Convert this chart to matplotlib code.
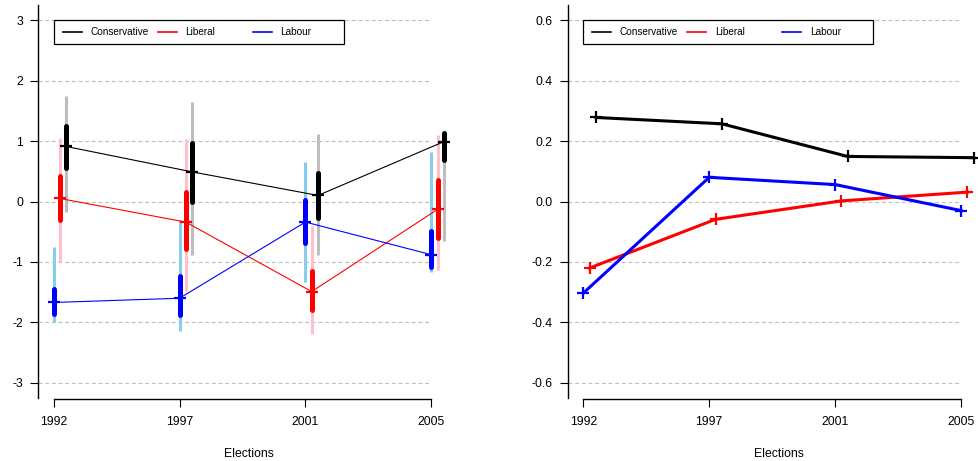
import matplotlib
matplotlib.use("Agg")
import matplotlib.pyplot as plt
import matplotlib.transforms as mtransforms
from matplotlib.lines import Line2D
from matplotlib.patches import Rectangle

plt.rcParams["font.family"] = ["Liberation Sans", "DejaVu Sans"]

elections = ["1992", "1997", "2001", "2005"]
parties = ["Conservative", "Liberal", "Labour"]

# left panel: estimates with inner (thick) and outer (thin) intervals
cons_est = [0.91, 0.49, 0.10, 0.99]
cons_inner = [(0.55, 1.25), (0.00, 0.96), (-0.27, 0.47), (0.68, 1.14)]
cons_outer = [(-0.18, 1.75), (-0.89, 1.64), (-0.89, 1.12), (-0.65, 1.16)]

lib_est = [0.05, -0.34, -1.49, -0.13]
lib_inner = [(-0.31, 0.42), (-0.79, 0.15), (-1.80, -1.15), (-0.61, 0.36)]
lib_outer = [(-1.00, 1.05), (-1.48, 1.03), (-2.19, -0.41), (-1.13, 1.10)]

lab_est = [-1.67, -1.60, -0.34, -0.88]
lab_inner = [(-1.86, -1.44), (-1.87, -1.23), (-0.68, 0.02), (-1.09, -0.48)]
lab_outer = [(-1.99, -0.75), (-2.14, -0.32), (-1.33, 0.66), (-1.16, 0.82)]

# right panel
cons_right = [0.278, 0.257, 0.149, 0.145]
lib_right = [-0.220, -0.059, 0.002, 0.031]
lab_right = [-0.303, 0.080, 0.056, -0.030]

DARK = {"Conservative": "black", "Liberal": "#FF0000", "Labour": "#0000FF"}
LIGHT = {"Conservative": "#BEBEBE", "Liberal": "#FFC0CB", "Labour": "#87CEEB"}
SHIFT = {"Labour": 0.0, "Liberal": 0.05, "Conservative": 0.1}

FS = 8.8
xpos = list(range(1, len(elections) + 1))

fig = plt.figure(figsize=(9.79, 4.61), dpi=100)
ax1 = fig.add_axes([38 / 979, 63 / 461, 421.5 / 979, 393 / 461])
ax2 = fig.add_axes([567.7 / 979, 63 / 461, 421.5 / 979, 393 / 461])


def setup(ax, ylim, yticks, fmt):
    ax.set_xlim(0.876, 4.224)
    ax.set_ylim(*ylim)
    for s in ["top", "right"]:
        ax.spines[s].set_visible(False)
    ax.spines["left"].set_linewidth(1.0)
    ax.spines["bottom"].set_linewidth(1.0)
    ax.spines["bottom"].set_bounds(1, 4)
    ax.spines["bottom"].set_position(("outward", 1))
    ax.set_xticks(xpos)
    ax.set_xticklabels(elections, fontsize=FS)
    ax.set_yticks(yticks)
    ax.set_yticklabels([fmt.format(v) for v in yticks], fontsize=FS)
    ax.tick_params(length=5.7, width=0.8, pad=5)
    ax.tick_params(axis="x", pad=6.5)
    ax.hlines(yticks, 0.876, 4, colors="#BEBEBE", linestyles=(0, (3.5, 2.5)),
              linewidth=0.8, zorder=0)
    ax.set_xlabel("Elections", fontsize=FS, labelpad=14)


def key(ax, ytop):
    # legend box drawn in pixel offsets from the top-left data point (1, ytop)
    tr = mtransforms.Affine2D() + mtransforms.ScaledTranslation(1, ytop, ax.transData)
    ax.add_patch(Rectangle((0, -24), 290, 24, fill=False, edgecolor="black",
                           linewidth=0.9, transform=tr, clip_on=False, zorder=5))
    for i, p in enumerate(parties):
        x0 = 9 + 95 * i
        ax.add_line(Line2D([x0, x0 + 19], [-12.3, -12.3], color=DARK[p], linewidth=1.2,
                           transform=tr, clip_on=False, zorder=5))
        ax.text(x0 + 27.5, -12.3, p, fontsize=7.2, va="center", ha="left",
                transform=tr, clip_on=False, zorder=5)


setup(ax1, (-3.25, 3.25), [-3, -2, -1, 0, 1, 2, 3], "{:g}")
setup(ax2, (-0.65, 0.65), [-0.6, -0.4, -0.2, 0.0, 0.2, 0.4, 0.6], "{:.1f}")

left_data = {
    "Conservative": (cons_est, cons_inner, cons_outer),
    "Liberal": (lib_est, lib_inner, lib_outer),
    "Labour": (lab_est, lab_inner, lab_outer),
}
for p in ["Labour", "Liberal", "Conservative"]:
    est, inner, outer = left_data[p]
    xs = [x + SHIFT[p] for x in xpos]
    ax1.vlines(xs, [o[0] for o in outer], [o[1] for o in outer],
               colors=LIGHT[p], linewidth=2.2, zorder=2)
    ax1.vlines(xs, [o[0] for o in inner], [o[1] for o in inner],
               colors=DARK[p], linewidth=3.6, capstyle="round", zorder=3)
for p in ["Conservative", "Liberal", "Labour"]:
    est = left_data[p][0]
    xs = [x + SHIFT[p] for x in xpos]
    ax1.plot(xs, est, color=DARK[p], linewidth=0.8, marker="+", markersize=9,
             markeredgewidth=1.6, zorder=4)

right_data = {"Conservative": cons_right, "Liberal": lib_right, "Labour": lab_right}
for p in ["Conservative", "Liberal", "Labour"]:
    xs = [x + SHIFT[p] for x in xpos]
    ax2.plot(xs, right_data[p], color=DARK[p], linewidth=2.2, marker="+",
             markersize=9, markeredgewidth=1.6, zorder=4, clip_on=False)

key(ax1, 3.0)
key(ax2, 0.6)

fig.savefig("out.png", dpi=100)
